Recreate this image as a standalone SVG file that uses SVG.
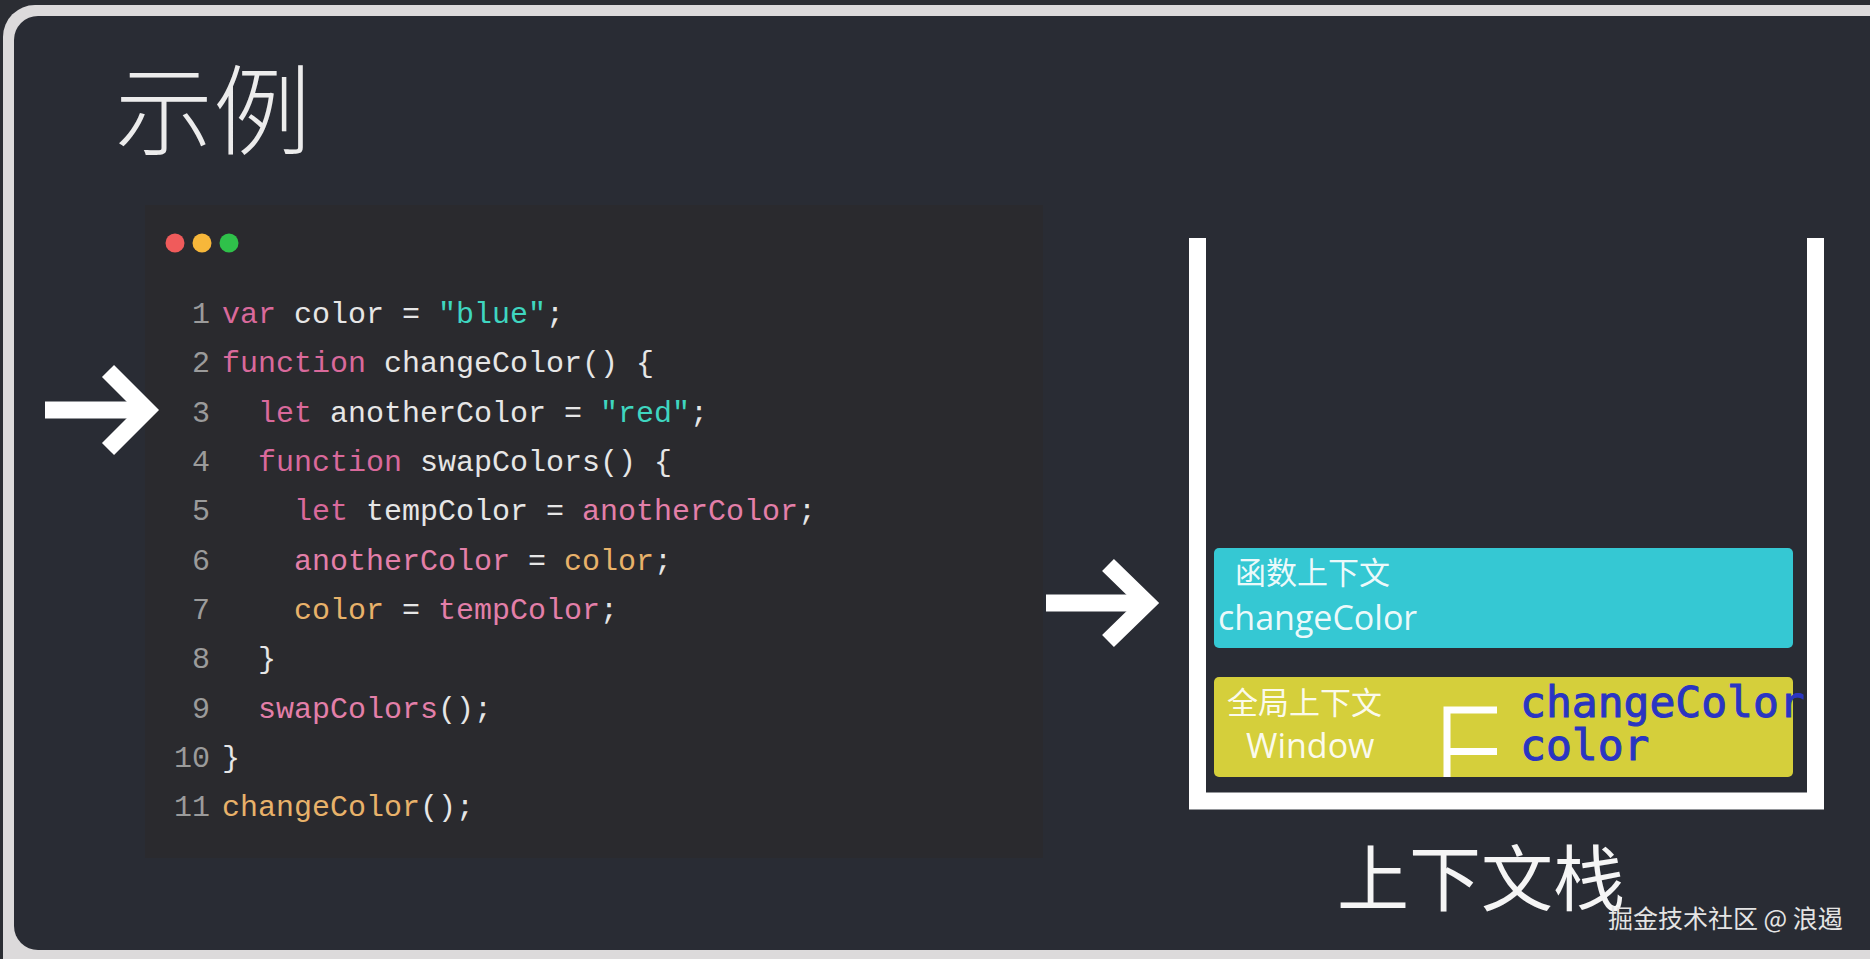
<svg xmlns="http://www.w3.org/2000/svg" width="1870" height="959" viewBox="0 0 1870 959">
<defs>
<style>
.code{font-family:"Liberation Mono","DejaVu Sans Mono",monospace;font-size:30px;fill:#e6e6e6;white-space:pre;}
.ln{fill:#9b9b9b;text-anchor:end;}
.k{fill:#d9699b;}
.s{fill:#3fd6c0;}
.p{fill:#e37fa9;}
.o{fill:#e8b26a;}
.cjk{font-family:"Noto Sans CJK SC","Noto Sans",sans-serif;}
.lbl{font-family:"Open Sans","Noto Sans CJK SC",sans-serif;fill:#ffffff;fill-opacity:0.92;}
.blue{font-family:"DejaVu Sans Mono",monospace;font-size:43px;fill:#2a35c2;stroke:#2a35c2;stroke-width:1;}
.arrow{fill:none;stroke:#ffffff;stroke-width:17;stroke-linecap:butt;stroke-linejoin:miter;}
</style>
</defs>
<rect x="0" y="0" width="1870" height="959" fill="#2b2d33"/>
<rect x="3" y="5" width="1920" height="1000" rx="32" fill="#dcdadb"/>
<rect x="14" y="16" width="1900" height="934" rx="24" fill="#292c34"/>

<g id="title">
<text class="cjk" x="115" y="147" font-size="98" font-weight="300" fill="#ececec">示例</text>
</g>

<g id="code-panel">
<rect x="145" y="205" width="898" height="653" fill="#2a2a2e"/>
<circle cx="175" cy="243" r="9.5" fill="#f05b5b"/>
<circle cx="202" cy="243" r="9.5" fill="#f7b73a"/>
<circle cx="229" cy="243" r="9.5" fill="#2fc14a"/>
<g class="code">
<text class="ln" x="210" y="323">1</text>
<text class="ln" x="210" y="372">2</text>
<text class="ln" x="210" y="422">3</text>
<text class="ln" x="210" y="471">4</text>
<text class="ln" x="210" y="520">5</text>
<text class="ln" x="210" y="570">6</text>
<text class="ln" x="210" y="619">7</text>
<text class="ln" x="210" y="668">8</text>
<text class="ln" x="210" y="718">9</text>
<text class="ln" x="210" y="767">10</text>
<text class="ln" x="210" y="816">11</text>
<text x="222" y="323"><tspan class="k">var</tspan> color = <tspan class="s">"blue"</tspan>;</text>
<text x="222" y="372"><tspan class="k">function</tspan> changeColor() {</text>
<text x="258" y="422"><tspan class="k">let</tspan> anotherColor = <tspan class="s">"red"</tspan>;</text>
<text x="258" y="471"><tspan class="k">function</tspan> swapColors() {</text>
<text x="294" y="520"><tspan class="k">let</tspan> tempColor = <tspan class="p">anotherColor</tspan>;</text>
<text x="294" y="570"><tspan class="p">anotherColor</tspan> = <tspan class="o">color</tspan>;</text>
<text x="294" y="619"><tspan class="o">color</tspan> = <tspan class="p">tempColor</tspan>;</text>
<text x="258" y="668">}</text>
<text x="258" y="718"><tspan class="p">swapColors</tspan>();</text>
<text x="222" y="767">}</text>
<text x="222" y="816"><tspan class="o">changeColor</tspan>();</text>
</g>
</g>

<g id="stack">
<path d="M1197.5,238 V801 H1815.5 V238" fill="none" stroke="#ffffff" stroke-width="17"/>
</g>

<g id="function-context">
<rect x="1214" y="548" width="579" height="100" rx="5" fill="#35c8d3"/>
<text class="lbl cjk" x="1235" y="584" font-size="31">函数上下文</text>
<text class="lbl" x="1218" y="630" font-size="34">changeColor</text>
</g>

<g id="global-context">
<rect x="1214" y="677" width="579" height="100" rx="5" fill="#d5cf3b"/>
<text class="lbl cjk" x="1227" y="714" font-size="31">全局上下文</text>
<text class="lbl" x="1246" y="758" font-size="34">Window</text>
<path d="M1447,777 V710 H1497 M1447,751.5 H1497" fill="none" stroke="#ffffff" stroke-width="7"/>
<text class="blue" x="1520" y="717">changeColor</text>
<text class="blue" x="1520" y="760">color</text>
</g>

<g id="stack-label">
<text class="cjk" x="1337" y="905" font-size="72" fill="#f5f5f5">上下文栈</text>
</g>

<g id="watermark">
<text class="cjk" x="1608" y="928" font-size="25" fill="#e4e4e4">掘金技术社区 @ 浪遏</text>
</g>

<g id="connectors">
<path class="arrow" d="M45,410 H146"/>
<path class="arrow" d="M108,371 L147,410 L108,449"/>
<path class="arrow" d="M1046,603 H1146"/>
<path class="arrow" d="M1108,565 L1147,603 L1108,641"/>
</g>
</svg>
